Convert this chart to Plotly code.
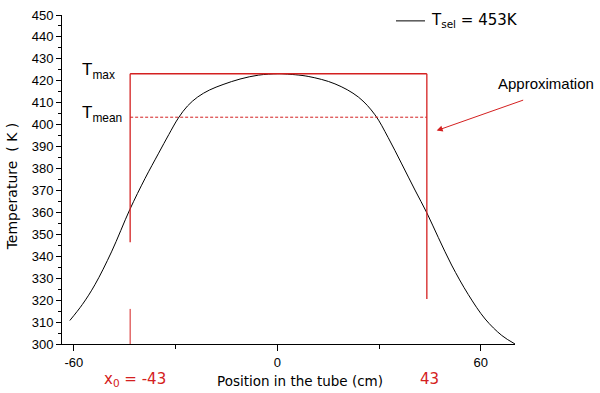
import plotly.graph_objects as go

# Temperature profile
position = [-61.2, -57.5, -53.8, -48.9, -43.5, -39.0, -35.0, -32.0, -29.2, -26.5, -23.5, -20.0, -16.0, -11.0, -5.5, 0.0,
            2.3, 9.1, 17.0, 23.9, 28.8, 32.7, 36.7, 40.6, 44.1, 47.5, 51.4, 56.3, 61.3, 66.2, 70.1]
temperature = [310.7, 318.0, 327.0, 342.0, 361.3, 375.5, 387.0, 395.5, 403.0, 408.5, 412.6, 415.8, 418.3, 420.8, 422.6, 423.2,
               423.1, 422.0, 418.6, 412.6, 404.5, 394.1, 382.1, 370.2, 359.8, 348.5, 336.0, 322.6, 311.4, 303.9, 300.0]

# Approximation (rectangle)
x_left = -43.4
x_right = 44.1
t_max = 423.2
t_mean = 403.4
left_upper = [346.4, t_max]
left_lower = [300.0, 316.0]
right_seg = [320.5, t_max]

legend_label = "T<sub>sel</sub> = 453K"

RED = "#d42020"

fig = go.Figure()

fig.add_trace(go.Scatter(x=position, y=temperature, mode="lines",
                         line=dict(color="black", width=1, shape="spline", smoothing=1.0),
                         name=legend_label, showlegend=False))
# approximation lines
fig.add_trace(go.Scatter(x=[x_left, x_right], y=[t_max, t_max], mode="lines",
                         line=dict(color=RED, width=1.4), showlegend=False))
fig.add_trace(go.Scatter(x=[x_left, x_right], y=[t_mean, t_mean], mode="lines",
                         line=dict(color=RED, width=1, dash="3px,2px"), showlegend=False))
fig.add_trace(go.Scatter(x=[x_left, x_left], y=left_upper, mode="lines",
                         line=dict(color=RED, width=1.3), showlegend=False))
fig.add_trace(go.Scatter(x=[x_left, x_left], y=left_lower, mode="lines",
                         line=dict(color=RED, width=1), showlegend=False))
fig.add_trace(go.Scatter(x=[x_right, x_right], y=right_seg, mode="lines",
                         line=dict(color=RED, width=1.3), showlegend=False))

tickfont = dict(family="Liberation Sans, Arial", size=13, color="black")

W, H = 600, 393
L, R, T, B = 62, 85, 8, 49
PW, PH = W - L - R, H - T - B


def px(xp):
    return (xp - L) / PW


def py(yp):
    return (H - B - yp) / PH


fig.update_layout(
    width=W, height=H,
    margin=dict(l=L, r=R, t=T, b=B),
    paper_bgcolor="white", plot_bgcolor="white",
    showlegend=False,
    xaxis=dict(range=[-63.5, 70.1], showline=True, linecolor="black", linewidth=1,
               ticks="outside", ticklen=6, tickwidth=1, tickcolor="black",
               tickvals=[-60, 0, 60], ticktext=["-60", "0", "60"], tickfont=tickfont,
               minor=dict(tickvals=[-30, 30], ticks="outside", ticklen=4, tickcolor="black"),
               showgrid=False, zeroline=False),
    yaxis=dict(range=[300, 450], showline=True, linecolor="black", linewidth=1,
               ticks="outside", ticklen=5, tickwidth=1, tickcolor="black",
               dtick=10, tick0=300, tickfont=tickfont,
               minor=dict(dtick=5, ticks="outside", ticklen=3, tickcolor="black"),
               showgrid=False, zeroline=False),
)

# legend key
fig.add_shape(type="line", xref="paper", yref="paper", x0=px(396), x1=px(425), y0=py(14), y1=py(14),
              line=dict(color="black", width=1))

ann = [
    dict(text=legend_label, xref="paper", yref="paper", x=px(429), y=py(14), xanchor="left", yanchor="middle",
         showarrow=False, font=dict(family="DejaVu Sans", size=15, color="black")),
    dict(text="Temperature  ( K )", xref="paper", yref="paper", x=px(12), y=py(183), textangle=-90,
         showarrow=False, font=dict(family="DejaVu Sans", size=14, color="black"), xanchor="center", yanchor="middle"),
    dict(text="Position in the tube (cm)", xref="paper", yref="paper", x=px(300), y=py(382),
         showarrow=False, font=dict(family="DejaVu Sans", size=13.5, color="black"), xanchor="center", yanchor="middle"),
    dict(text="x<sub>0</sub> = -43", xref="paper", yref="paper", x=px(135), y=py(380),
         showarrow=False, font=dict(family="DejaVu Sans", size=15, color=RED), xanchor="center", yanchor="middle"),
    dict(text="43", xref="paper", yref="paper", x=px(429), y=py(380),
         showarrow=False, font=dict(family="DejaVu Sans", size=15, color=RED), xanchor="center", yanchor="middle"),
    dict(text="T<sub>max</sub>", x=-58.3, y=424.5, showarrow=False, xanchor="left", yanchor="middle",
         font=dict(family="Liberation Sans, Arial", size=17, color="black")),
    dict(text="T<sub>mean</sub>", x=-58.3, y=404.8, showarrow=False, xanchor="left", yanchor="middle",
         font=dict(family="Liberation Sans, Arial", size=17, color="black")),
    dict(text="Approximation", xref="paper", yref="paper", x=px(546), y=py(78),
         showarrow=False, xanchor="center", yanchor="middle",
         font=dict(family="Liberation Sans, Arial", size=15, color="black")),
    dict(text="", x=47.0, y=397.3, ax=88, ay=-31, showarrow=True, arrowhead=2, arrowsize=1.2,
         arrowwidth=1, arrowcolor=RED),
]
fig.update_layout(annotations=ann)

fig.write_html("out.html", config={"displayModeBar": False},
               post_script="document.body.style.margin='0px';")
